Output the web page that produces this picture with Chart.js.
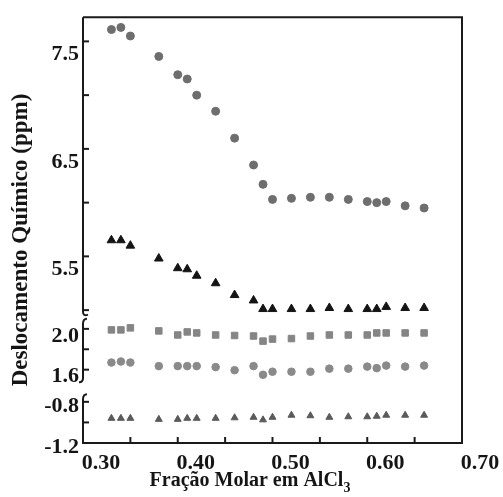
<!DOCTYPE html>
<html>
<head>
<meta charset="utf-8">
<script src="https://cdn.jsdelivr.net/npm/chart.js@4.4.0/dist/chart.umd.min.js"></script>
<style>
html, body { margin: 0; padding: 0; background: #fff; }
</style>
</head>
<body>
<canvas id="myChart" width="503" height="497"></canvas>
<script>
// fração molar (eixo x), comum a todas as séries
const fracaoMolar = [0.33, 0.34, 0.35, 0.38, 0.40, 0.41, 0.42, 0.44, 0.46, 0.48, 0.49, 0.50, 0.52, 0.54, 0.56, 0.58, 0.60, 0.61, 0.62, 0.64, 0.66];

// deslocamentos (ppm)
const circulosTopo = [7.61, 7.63, 7.55, 7.36, 7.19, 7.15, 7.00, 6.85, 6.60, 6.35, 6.17, 6.03, 6.04, 6.05, 6.05, 6.03, 6.01, 6.00, 6.01, 5.97, 5.95];
const triangulosTopo = [5.65, 5.65, 5.60, 5.48, 5.39, 5.38, 5.32, 5.25, 5.14, 5.09, 5.01, 5.01, 5.01, 5.01, 5.02, 5.01, 5.01, 5.01, 5.03, 5.02, 5.02];
const quadrados = [1.99, 1.99, 2.01, 1.98, 1.94, 1.97, 1.96, 1.94, 1.935, 1.93, 1.88, 1.90, 1.905, 1.93, 1.94, 1.94, 1.94, 1.96, 1.96, 1.96, 1.96];
const circulosMeio = [1.67, 1.68, 1.67, 1.635, 1.635, 1.635, 1.635, 1.625, 1.595, 1.635, 1.55, 1.58, 1.58, 1.58, 1.61, 1.61, 1.63, 1.615, 1.64, 1.63, 1.64];
const triangulosBase = [-0.96, -0.96, -0.96, -0.97, -0.97, -0.96, -0.96, -0.96, -0.955, -0.95, -0.975, -0.95, -0.93, -0.935, -0.95, -0.945, -0.945, -0.94, -0.93, -0.93, -0.93];

// marcas e rótulos dos eixos
const xTicks = [0.30, 0.35, 0.40, 0.45, 0.50, 0.55, 0.60, 0.65, 0.70];
const xTickLabels = ["0.30", "0.40", "0.50", "0.60", "0.70"];
const y1Ticks = [5.0, 5.5, 6.0, 6.5, 7.0, 7.5];
const y1TickLabels = ["5.5", "6.5", "7.5"];
const y2Ticks = [1.6, 1.8, 2.0];
const y2TickLabels = ["1.6", "2.0"];
const y3Ticks = [-1.2, -1.0, -0.8];
const y3TickLabels = ["-0.8", "-1.2"];

const fonte = "'Liberation Serif', 'Times New Roman', serif";
const corTexto = "#151515";

function pontos(ys) {
    return fracaoMolar.map((x, i) => ({x: x, y: ys[i]}));
}

function serie(ys, eixo, forma, cor, raio) {
    return {
        data: pontos(ys),
        yAxisID: eixo,
        pointStyle: forma,
        pointRadius: raio,
        pointBackgroundColor: cor,
        pointBorderColor: cor,
        pointBorderWidth: 1,
        showLine: false,
        clip: false
    };
}

function eixoY(ticks, labels, min, max, peso, ordem, offset) {
    return {
        type: "linear",
        position: "left",
        stack: "deslocamento",
        stackWeight: peso,
        weight: ordem,
        min: min,
        max: max,
        afterBuildTicks: s => { s.ticks = ticks.map(v => ({value: v})); },
        afterFit: s => { s.width = 83; },
        grid: {display: false, drawTicks: false},
        border: {display: false},
        ticks: {
            autoSkip: false,
            padding: 4,
            labelOffset: offset,
            color: corTexto,
            font: {family: fonte, size: 22, weight: "bold"},
            callback: v => {
                const s = Number(v).toFixed(1);
                return labels.includes(s) ? s : "";
            }
        }
    };
}

// moldura, marcas internas, quebras do eixo y e títulos
const marcas = {
    id: "marcas",
    afterDraw(chart) {
        const ctx = chart.ctx;
        const a = chart.chartArea;
        ctx.save();
        ctx.strokeStyle = "#1a1a1a";
        ctx.lineWidth = 2;
        ctx.beginPath();
        ctx.moveTo(a.left, a.top);
        ctx.lineTo(a.right, a.top);
        ctx.lineTo(a.right, a.bottom);
        ctx.lineTo(a.left - 1, a.bottom);
        ctx.stroke();

        const sx = chart.scales.x;
        sx.ticks.forEach(t => {
            const px = sx.getPixelForValue(t.value);
            ctx.beginPath();
            ctx.moveTo(px, a.bottom);
            ctx.lineTo(px, a.bottom - 6);
            ctx.stroke();
        });

        ["y1", "y2", "y3"].forEach(id => {
            const s = chart.scales[id];
            s.ticks.forEach(t => {
                const py = s.getPixelForValue(t.value);
                ctx.beginPath();
                ctx.moveTo(a.left, py);
                ctx.lineTo(a.left + 6, py);
                ctx.stroke();
            });
        });

        const x0 = a.left;
        const y1 = chart.scales.y1, y2 = chart.scales.y2, y3 = chart.scales.y3;
        // trecho superior
        ctx.beginPath();
        ctx.moveTo(x0, a.top);
        ctx.lineTo(x0, y1.bottom - 6);
        ctx.quadraticCurveTo(x0, y1.bottom - 1, x0 + 5, y1.bottom - 3);
        ctx.stroke();
        // trecho do meio
        ctx.beginPath();
        ctx.moveTo(x0 + 4, y2.top + 1);
        ctx.quadraticCurveTo(x0, y2.top + 1, x0, y2.top + 6);
        ctx.lineTo(x0, y2.bottom - 8);
        ctx.quadraticCurveTo(x0, y2.bottom - 4, x0 - 4, y2.bottom - 4);
        ctx.stroke();
        // trecho inferior
        ctx.beginPath();
        ctx.moveTo(x0 + 4, y3.top + 8);
        ctx.quadraticCurveTo(x0, y3.top + 8, x0, y3.top + 13);
        ctx.lineTo(x0, a.bottom);
        ctx.stroke();

        ctx.fillStyle = corTexto;
        ctx.textBaseline = "middle";
        // título do eixo x, com subscrito
        const base = "Fração Molar em AlCl";
        ctx.font = "bold 20px " + fonte;
        const w1 = ctx.measureText(base).width;
        ctx.font = "bold 14px " + fonte;
        const w2 = ctx.measureText("3").width;
        const xi = 250 - (w1 + w2) / 2;
        ctx.textAlign = "left";
        ctx.font = "bold 20px " + fonte;
        ctx.fillText(base, xi, 481);
        ctx.font = "bold 14px " + fonte;
        ctx.fillText("3", xi + w1, 488);

        // título do eixo y
        ctx.translate(21, 240);
        ctx.rotate(-Math.PI / 2);
        ctx.textAlign = "center";
        ctx.font = "bold 23px " + fonte;
        ctx.fillText("Deslocamento Químico (ppm)", 0, 0);
        ctx.restore();
    }
};

const ctx = document.getElementById("myChart").getContext("2d");

const myChart = new Chart(ctx, {
    type: "scatter",
    data: {
        datasets: [
            serie(circulosTopo, "y1", "circle", "#6e6e6e", 4),
            serie(triangulosTopo, "y1", "triangle", "#141414", 5),
            serie(quadrados, "y2", "rect", "#858585", 4.6),
            serie(circulosMeio, "y2", "circle", "#8a8a8a", 3.8),
            serie(triangulosBase, "y3", "triangle", "#5a5a5a", 4)
        ]
    },
    options: {
        responsive: false,
        animation: false,
        devicePixelRatio: 1,
        layout: {padding: {top: 15, right: 41, bottom: 0, left: 0}},
        plugins: {legend: {display: false}, tooltip: {enabled: false}},
        scales: {
            x: {
                type: "linear",
                position: "bottom",
                min: 0.30,
                max: 0.70,
                afterBuildTicks: s => { s.ticks = xTicks.map(v => ({value: v})); },
                afterFit: s => { s.height = 54; },
                grid: {display: false, drawTicks: false},
                border: {display: false},
                ticks: {
                    autoSkip: false,
                    maxRotation: 0,
                    padding: 7,
                    labelOffset: 18,
                    color: corTexto,
                    font: {family: fonte, size: 22, weight: "bold"},
                    callback: v => {
                        const s = Number(v).toFixed(2);
                        return xTickLabels.includes(s) ? s : "";
                    }
                }
            },
            y1: eixoY(y1Ticks, y1TickLabels, 4.93, 7.725, 302, 3, 13),
            y2: eixoY(y2Ticks, y2TickLabels, 1.437, 2.11, 69, 2, 7),
            y3: eixoY(y3Ticks, y3TickLabels, -1.2, -0.649, 57, 1, 4)
        }
    },
    plugins: [marcas]
});
</script>
</body>
</html>
